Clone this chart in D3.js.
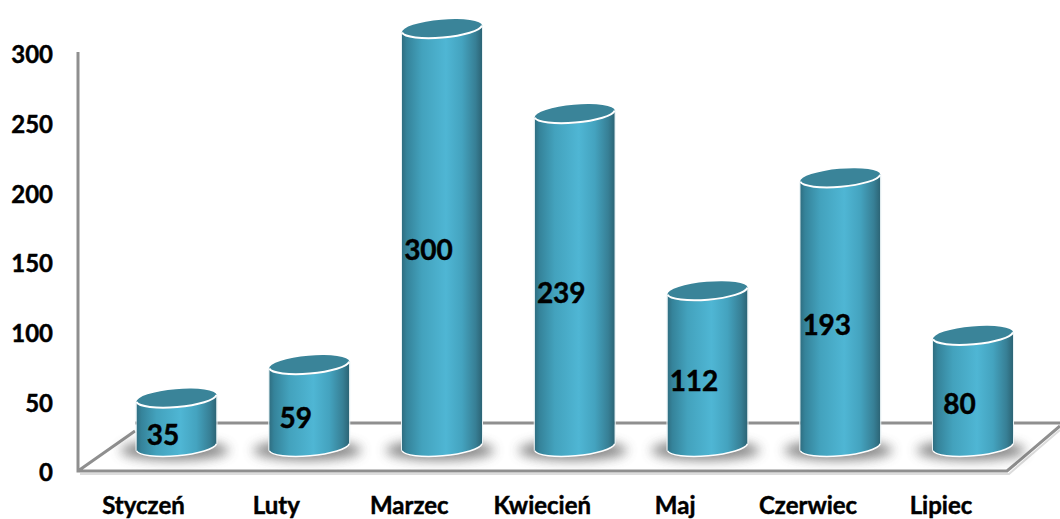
<!DOCTYPE html>
<html><head><meta charset="utf-8">
<script src="https://cdn.jsdelivr.net/npm/d3@7"></script>
<style>html,body{margin:0;padding:0;background:#fff}svg{display:block}text{font-family:Lato,"Open Sans",sans-serif;font-weight:700;fill:#000;stroke:#000;stroke-width:.45px}</style>
</head><body><svg id="c" width="1060" height="519"></svg>
<script>
const categories = ["Styczeń","Luty","Marzec","Kwiecień","Maj","Czerwiec","Lipiec"];
const values = [35,59,300,239,112,193,80];
const yTicks = [0,50,100,150,200,250,300];

const svg = d3.select("#c");
const defs = svg.append("defs");
const grad = defs.append("linearGradient").attr("id","cyl").attr("x1",0).attr("x2",1).attr("y1",0).attr("y2",0);
[[0,"#2f6e81"],[.06,"#35839a"],[.25,"#43a2bd"],[.55,"#4fb6d4"],[.75,"#44a3bf"],[.92,"#377f95"],[1,"#2c6475"]]
 .forEach(([o,c])=>grad.append("stop").attr("offset",o).attr("stop-color",c));
defs.append("filter").attr("id","blur").attr("x","-40%").attr("y","-100%").attr("width","180%").attr("height","300%")
 .append("feGaussianBlur").attr("stdDeviation",6);
defs.append("filter").attr("id","soft").append("feGaussianBlur").attr("stdDeviation",.7);

const W=[78,1007], FY=471, BY=423, DX=55;
const x = d3.scalePoint().domain(categories).range([176.5,973]);
const yBar = d3.scaleLinear().domain([0,300]).range([447.3,29]);
const yAxis = d3.scaleLinear().domain([0,300]).range([473,55]);
const labelX = d3.scalePoint().domain(categories).range([143.5,941]);

// floor highlight + lines
const grey="#8f8f8f";
svg.append("path").attr("d",`M${W[0]+2},${FY+3}H${W[1]+2}L1060,${BY+7}`).attr("fill","none").attr("stroke","#dcdcdc").attr("stroke-width",2).attr("filter","url(#soft)");
svg.append("path").attr("d",`M${W[0]},52V${FY}H${W[1]}L1060,${BY+3}M${W[0]},${FY}L${W[0]+DX+2},${BY+8}M${W[0]+DX+2},${BY}H1060`)
 .attr("fill","none").attr("stroke",grey).attr("stroke-width",3);

// y axis labels
const axis = svg.append("g").attr("transform","translate(53,0)").call(d3.axisLeft(yAxis).tickValues(yTicks).tickSize(0).tickPadding(0));
axis.select(".domain").remove();
axis.selectAll("text").style("font-family",'Lato,"Open Sans",sans-serif').style("font-size","24px").style("font-weight",700).attr("fill","#000");

// x labels
svg.append("g").selectAll("text").data(categories).join("text")
 .attr("x",d=>labelX(d)).attr("y",514).attr("text-anchor","middle").attr("font-size",24).text(d=>d);

const RX=40.3, RY=9.4, TILT=-5, dy=3.5;
const bars = svg.append("g").selectAll("g").data(values).join("g")
 .attr("transform",(d,i)=>`translate(${x(categories[i])},0)`);
bars.append("ellipse").attr("cx",-2).attr("cy",yBar(0)+3).attr("rx",54).attr("ry",10)
 .attr("fill","#555").attr("opacity",.72).attr("filter","url(#blur)");
bars.append("path").attr("d",d=>{
  const t=yBar(d), b=yBar(0);
  return `M-40,${t+dy}L-40,${b+dy}A${RX},${RY} ${TILT} 0 0 40,${b-dy}L40,${t-dy}A${RX},${RY} ${TILT} 0 1 -40,${t+dy}Z`;
}).attr("fill","url(#cyl)");
bars.append("path").attr("d",`M-40,${yBar(0)+dy}A${RX},${RY} ${TILT} 0 0 40,${yBar(0)-dy}`).attr("fill","none").attr("stroke","#fff").attr("stroke-width",1.5);
bars.append("path").attr("d",d=>{
  const t=yBar(d), b=yBar(0);
  return `M-40.5,${t+dy}V${b+dy}M40.5,${t-dy}V${b-dy}`;
}).attr("stroke","#e8f2f5").attr("stroke-width",1).attr("fill","none");
bars.append("ellipse").attr("cx",0).attr("cy",d=>yBar(d)).attr("rx",RX).attr("ry",RY)
 .attr("transform",d=>`rotate(${TILT} 0 ${yBar(d)})`).attr("fill","#3a8499");
bars.append("path").attr("d",d=>{
  const t=yBar(d);
  return `M-40,${t+dy}A${RX},${RY} ${TILT} 0 0 40,${t-dy}`;
}).attr("fill","none").attr("stroke","#fff").attr("stroke-width",2);

// data labels
svg.append("g").selectAll("text").data(values).join("text")
 .attr("x",(d,i)=>x(categories[i])-13.5)
 .attr("y",d=>(yBar(d)+yBar(0))/2+22)
 .attr("text-anchor","middle").attr("font-size",28).text(d=>d);
</script></body></html>
